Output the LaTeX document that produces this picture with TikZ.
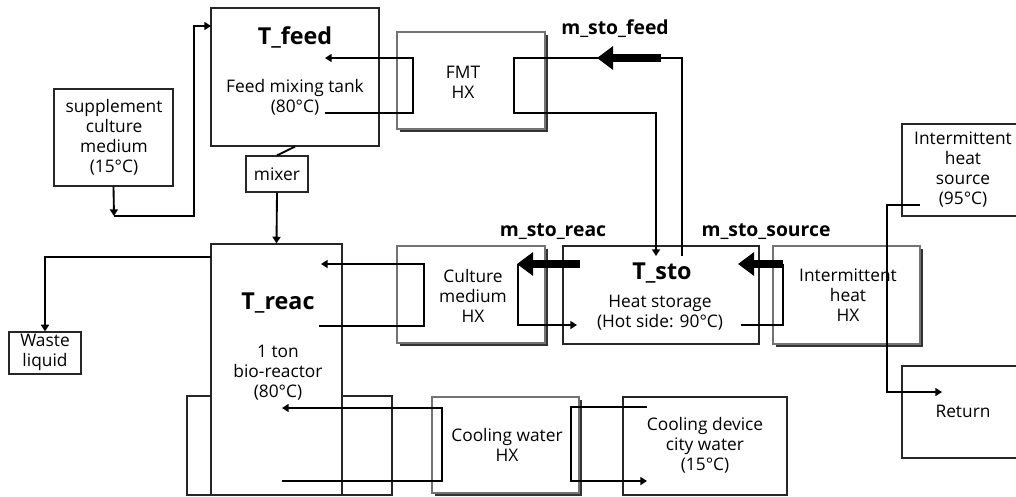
\documentclass[tikz,border=0pt]{standalone}
\usepackage{fontspec}
\setmainfont{Open Sans}
\usetikzlibrary{arrows.meta,fit,shadows}
\begin{document}
\begin{tikzpicture}[x=0.75pt,y=-0.75pt,
  bx/.style={draw=black!85,line width=0.9pt,fill=white,inner sep=0pt},
  hx/.style={draw=black!55,line width=0.9pt,fill=white,inner sep=0pt,general shadow={fill=black!80,shadow xshift=2.5pt,shadow yshift=-2.5pt}},
  txt/.style={align=center,font=\fontsize{13}{15}\selectfont,inner sep=0pt},
  ttl/.style={font=\fontsize{17.5}{20}\selectfont\bfseries,inner sep=0pt},
  lbl/.style={font=\fontsize{14.5}{17}\selectfont\bfseries,inner sep=0pt},
  conn/.style={line width=1.4pt},
  arr/.style={conn,-{Triangle[width=6pt,length=5pt]}},
  flow/.style={line width=6pt,-{Triangle[width=17pt,length=12pt]}}]
\clip (0,0) rectangle (1016,496);
\fill[white] (0,0) rectangle (1016,496);
% boxes
\node[bx,fit={(211,8) (379,146)}] (feed) {};
\node[bx,fit={(54,89) (173,186)}] (sup) {};
\node[bx,fit={(246,156) (308,192)}] (mixer) {};
\node[hx,fit={(397,32) (545,129)}] (fmt) {};
\node[bx,fit={(563,246) (759,344)}] (sto) {};
\node[hx,fit={(397,246) (545,343)}] (cmhx) {};
\node[hx,fit={(773,246) (920,344)}] (ihhx) {};
\node[bx,fit={(902,124) (1030,216)}] (src) {};
\node[bx,fit={(902,366) (1030,458)}] (ret) {};
\node[bx,fit={(187,396) (392,495)}] (jacket) {};
\node[bx,fit={(211,244) (342,495)}] (reac) {};
\node[bx,fit={(9,332) (81,374)}] (waste) {};
\node[hx,fit={(432,397) (579,493)}] (cwhx) {};
\node[bx,fit={(623,397) (787,495)}] (cdev) {};
% texts
\node[ttl] (tfeed) at (295,37) {T\_feed};
\node[txt] (feedt) at (295,97) {Feed mixing tank\\(80°C)};
\node[txt] (supt) at (114,137) {supplement\\culture\\medium\\(15°C)};
\node[txt] (mixt) at (277,174) {mixer};
\node[txt] (fmtt) at (463,82) {FMT\\HX};
\node[lbl] (lfeed) at (615,29) {m\_sto\_feed};
\node[ttl] (tsto) at (662,273) {T\_sto};
\node[txt] (stot) at (660,313) {Heat storage\\(Hot side: 90°C)};
\node[txt] (cmt) at (473,296) {Culture\\medium\\HX};
\node[lbl] (lreac) at (553,232) {m\_sto\_reac};
\node[lbl] (lsrc) at (766,232) {m\_sto\_source};
\node[txt] (iht) at (848,295) {Intermittent\\heat\\HX};
\node[txt] (srct) at (963,170) {Intermittent\\heat\\source\\(95°C)};
\node[txt] (rett) at (963,411) {Return};
\node[ttl] (treac) at (278,303) {T\_reac};
\node[txt] (react) at (278,373) {1 ton\\bio-reactor\\(80°C)};
\node[txt] (wastet) at (45,352) {Waste\\liquid};
\node[txt] (cwt) at (507,445) {Cooling water\\HX};
\node[txt] (cdt) at (705,445) {Cooling device\\city water\\(15°C)};
% coordinates
\coordinate (s1) at (114,216);
\coordinate (s2) at (194,216);
\coordinate (s3) at (194,26);
\coordinate (feedin) at (211,26);
\coordinate (w1) at (211,257);
\coordinate (w2) at (45,257);
\coordinate (fa) at (325,113);
\coordinate (fb) at (413,113);
\coordinate (fc) at (413,58);
\coordinate (fd) at (325,58);
\coordinate (ga) at (682,256);
\coordinate (gb) at (682,58);
\coordinate (gc) at (514,58);
\coordinate (gd) at (514,113);
\coordinate (ge) at (656,113);
\coordinate (gf) at (656,256);
\coordinate (gt1) at (661,58);
\coordinate (gt2) at (597,58);
\coordinate (ca) at (319,326);
\coordinate (cb) at (424,326);
\coordinate (cc) at (424,264);
\coordinate (cd) at (321,264);
\coordinate (ct1) at (580,264);
\coordinate (ct2) at (517,264);
\coordinate (ce) at (518,264);
\coordinate (cf) at (518,325);
\coordinate (cg) at (577,325);
\coordinate (it1) at (783,264);
\coordinate (it2) at (738,264);
\coordinate (ia) at (741,325);
\coordinate (ib) at (783,325);
\coordinate (ic) at (783,264);
\coordinate (ra) at (920,205);
\coordinate (rb) at (887,205);
\coordinate (rc) at (887,392);
\coordinate (rd) at (942,392);
\coordinate (ka) at (282,481);
\coordinate (kb) at (442,481);
\coordinate (kc) at (442,408);
\coordinate (kd) at (282,408);
\coordinate (la) at (647,407);
\coordinate (lb) at (571,407);
\coordinate (lc) at (571,481);
\coordinate (ld) at (647,481);
% connectors
\draw[arr] (sup.south) -- (s1);
\draw[arr] (s1) -- (s2) -- (s3) -- (feedin);
\draw[conn] (feed.south) -- (mixer.north);
\draw[arr] (mixer.south) -- (reac.north);
\draw[arr] (w1) -- (w2) -- (waste.north);
\draw[arr] (fa) -- (fb) -- (fc) -- (fd);
\draw[arr] (ga) -- (gb) -- (gc) -- (gd) -- (ge) -- (gf);
\draw[flow] (gt1) -- (gt2);
\draw[arr] (ca) -- (cb) -- (cc) -- (cd);
\draw[arr] (ce) -- (cf) -- (cg);
\draw[flow] (ct1) -- (ct2);
\draw[conn] (ia) -- (ib) -- (ic);
\draw[flow] (it1) -- (it2);
\draw[arr] (ra) -- (rb) -- (rc) -- (rd);
\draw[arr] (ka) -- (kb) -- (kc) -- (kd);
\draw[arr] (la) -- (lb) -- (lc) -- (ld);
\end{tikzpicture}
\end{document}
